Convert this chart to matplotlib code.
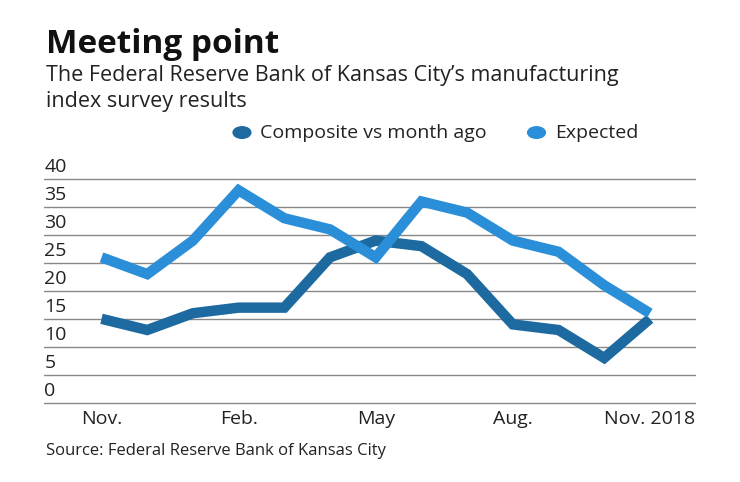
import matplotlib
matplotlib.use("Agg")
import matplotlib.pyplot as plt

months = list(range(13))
composite = [15, 13, 16, 17, 17, 26, 29, 28, 23, 14, 13, 8, 15]
expected = [26, 23, 29, 38, 33, 31, 26, 36, 34, 29, 27, 21, 16]
xtick_pos = [0, 3, 6, 9, 12]
xtick_labels = ["Nov.", "Feb.", "May", "Aug.", "Nov. 2018"]
yticks = [0, 5, 10, 15, 20, 25, 30, 35, 40]

dark = "#1d6aa0"
light = "#2a8fd8"
plt.rcParams['font.family'] = ['Open Sans', 'DejaVu Sans']

fig = plt.figure(figsize=(7.4, 4.82), dpi=100)
ax = fig.add_axes([0.06, 0.160, 0.88, 0.480])
for y in yticks:
    ax.axhline(y, color="#888888", lw=1.0, zorder=0)
ax.plot(months, composite, color=dark, lw=7.5, solid_joinstyle="miter", solid_capstyle="butt")
ax.plot(months, expected, color=light, lw=7.5, solid_joinstyle="miter", solid_capstyle="butt")
ax.set_xlim(-1.25, 13.0)
ax.set_ylim(-0.4, 41)
for s in ax.spines.values():
    s.set_visible(False)
ax.set_yticks([])
ax.set_xticks(xtick_pos)
ax.set_xticklabels(xtick_labels, fontsize=14, color="#222222")
ax.tick_params(axis="x", length=0, pad=4)
for y in yticks:
    ax.text(-1.25, y + 0.5, str(y), fontsize=14, color="#222222", ha="left", va="bottom")

fig.text(0.062, 0.89, "Meeting point", fontsize=24, fontweight="bold", color="#111111")
fig.text(0.062, 0.832, "The Federal Reserve Bank of Kansas City’s manufacturing", fontsize=15.5, color="#222222")
fig.text(0.062, 0.777, "index survey results", fontsize=15.5, color="#222222")
fig.text(0.062, 0.055, "Source: Federal Reserve Bank of Kansas City", fontsize=12, color="#222222")
fig.patches.append(plt.Circle((0.327, 0.725), 0.012, transform=fig.transFigure, color=dark, figure=fig))
fig.text(0.352, 0.725, "Composite vs month ago", fontsize=14, va="center", color="#222222")
fig.patches.append(plt.Circle((0.725, 0.725), 0.012, transform=fig.transFigure, color=light, figure=fig))
fig.text(0.75, 0.725, "Expected", fontsize=14, va="center", color="#222222")
fig.savefig("out.png", dpi=100)
